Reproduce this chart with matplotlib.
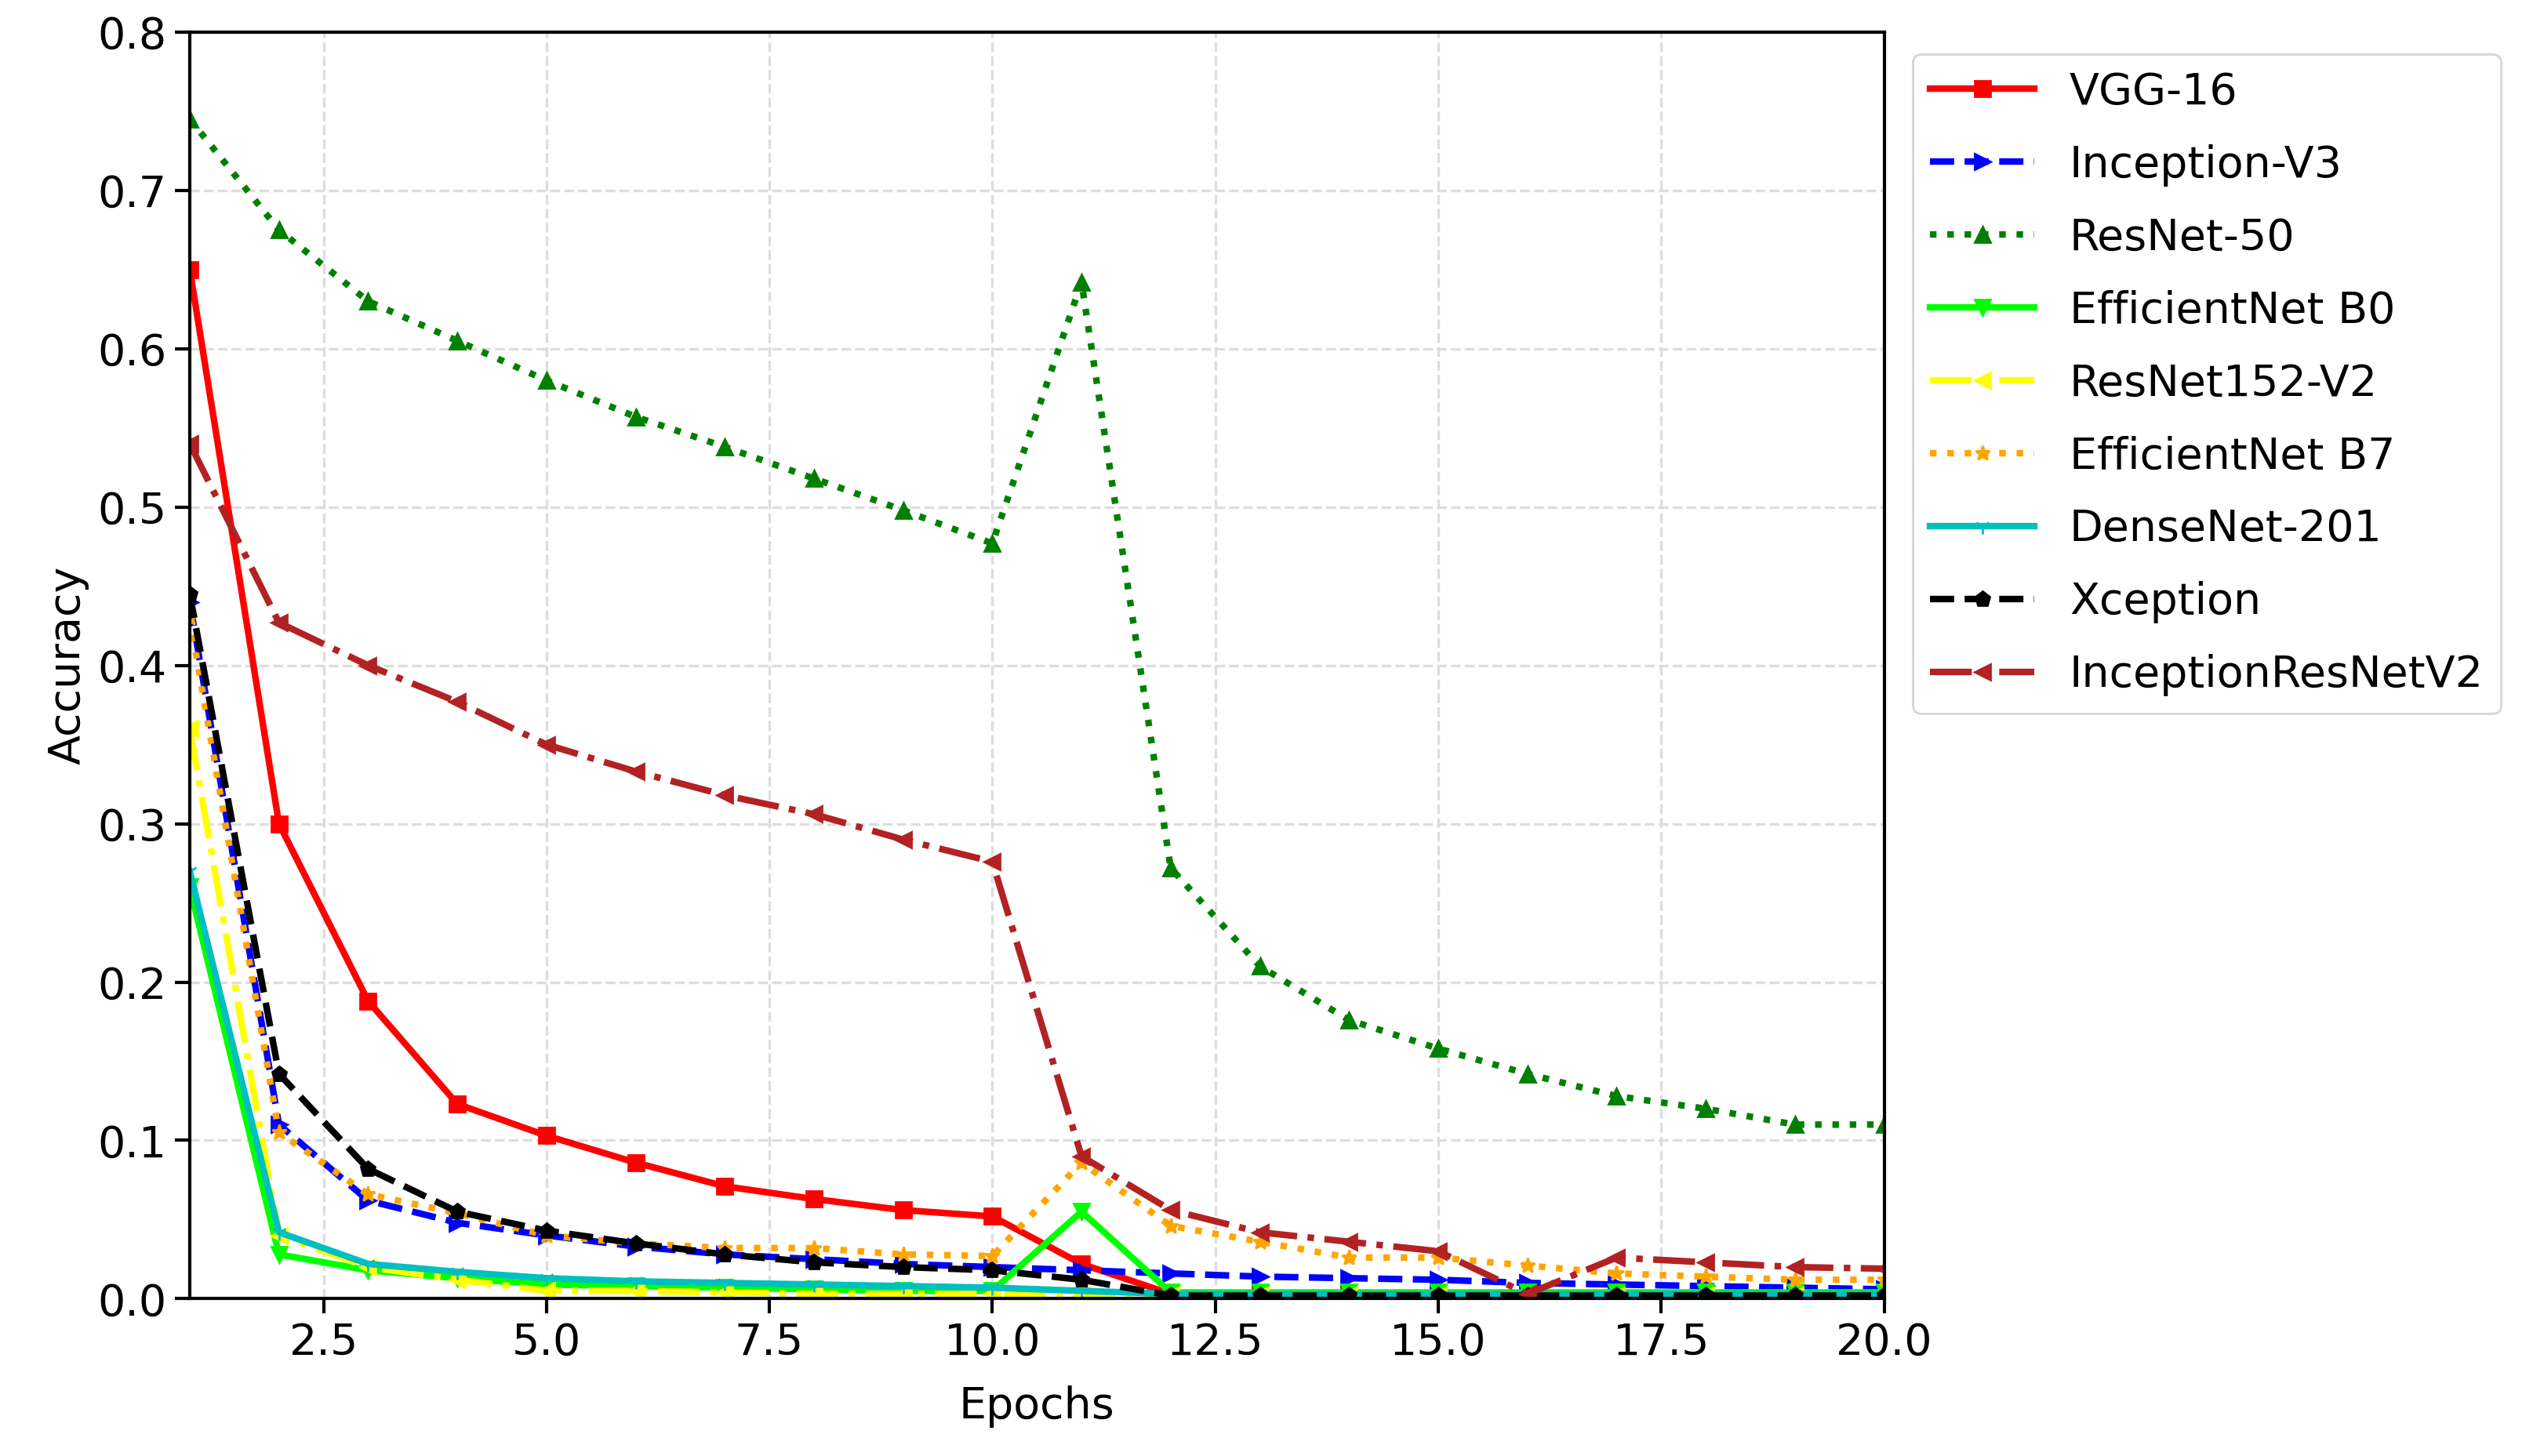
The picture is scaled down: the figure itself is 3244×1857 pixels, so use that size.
import matplotlib
matplotlib.use("Agg")
import matplotlib.pyplot as plt

epochs = list(range(1, 21))

vgg16 = [0.65, 0.30, 0.188, 0.123, 0.103, 0.086, 0.071, 0.063, 0.056, 0.052,
         0.022, 0.003, 0.003, 0.002, 0.002, 0.002, 0.002, 0.002, 0.002, 0.002]
inception_v3 = [0.44, 0.11, 0.062, 0.048, 0.040, 0.033, 0.028, 0.025, 0.022, 0.020,
                0.018, 0.016, 0.014, 0.013, 0.012, 0.010, 0.009, 0.008, 0.007, 0.006]
resnet50 = [0.745, 0.675, 0.630, 0.605, 0.580, 0.557, 0.538, 0.518, 0.498, 0.477,
            0.642, 0.272, 0.210, 0.176, 0.158, 0.142, 0.128, 0.120, 0.110, 0.110]
effnet_b0 = [0.26, 0.028, 0.018, 0.013, 0.009, 0.008, 0.007, 0.006, 0.005, 0.005,
             0.055, 0.004, 0.004, 0.004, 0.004, 0.004, 0.004, 0.004, 0.004, 0.004]
resnet152_v2 = [0.36, 0.040, 0.020, 0.012, 0.005, 0.005, 0.004, 0.003, 0.003, 0.003,
                0.002, 0.002, 0.002, 0.002, 0.002, 0.002, 0.002, 0.002, 0.002, 0.002]
effnet_b7 = [0.43, 0.105, 0.066, 0.054, 0.040, 0.035, 0.032, 0.032, 0.028, 0.027,
             0.086, 0.046, 0.036, 0.026, 0.026, 0.021, 0.016, 0.014, 0.012, 0.012]
densenet201 = [0.27, 0.042, 0.022, 0.017, 0.013, 0.011, 0.010, 0.009, 0.008, 0.007,
               0.005, 0.003, 0.003, 0.003, 0.003, 0.003, 0.003, 0.003, 0.003, 0.003]
xception = [0.445, 0.142, 0.082, 0.055, 0.043, 0.035, 0.028, 0.023, 0.020, 0.018,
            0.012, 0.002, 0.002, 0.002, 0.002, 0.002, 0.002, 0.002, 0.002, 0.002]
inc_resnet_v2 = [0.54, 0.427, 0.400, 0.377, 0.350, 0.333, 0.318, 0.306, 0.290, 0.276,
                 0.090, 0.056, 0.042, 0.036, 0.030, 0.003, 0.026, 0.023, 0.020, 0.019]

series = [
    ("VGG-16", vgg16, "red", "-", "s"),
    ("Inception-V3", inception_v3, "blue", "--", ">"),
    ("ResNet-50", resnet50, "green", ":", "^"),
    ("EfficientNet B0", effnet_b0, "lime", "-", "v"),
    ("ResNet152-V2", resnet152_v2, "yellow", "-.", "<"),
    ("EfficientNet B7", effnet_b7, "orange", ":", "*"),
    ("DenseNet-201", densenet201, "c", "-", "1"),
    ("Xception", xception, "black", "--", "p"),
    ("InceptionResNetV2", inc_resnet_v2, "firebrick", "-.", "<"),
]

fig = plt.figure(figsize=(16.22, 9.285), dpi=200)
ax = fig.add_axes([0.0746, 0.108, 0.666, 0.87])

for name, vals, color, ls, mk in series:
    ax.plot(epochs, vals, color=color, linestyle=ls, marker=mk,
            linewidth=3, markersize=7, label=name)

ax.set_xlim(1, 20)
ax.set_ylim(0, 0.8)
ax.grid(True, linestyle="--", color="#dddddd", linewidth=1.2)
ax.set_xlabel("Epochs", fontsize=20, labelpad=10)
ax.set_ylabel("Accuracy", fontsize=20)
ax.tick_params(labelsize=20, width=1.5, length=7)
for s in ax.spines.values():
    s.set_linewidth(1.5)

ax.legend(loc="upper left", bbox_to_anchor=(1.004, 1.0), fontsize=20,
          handlelength=2.4, labelspacing=0.7)

fig.savefig("out.png")
